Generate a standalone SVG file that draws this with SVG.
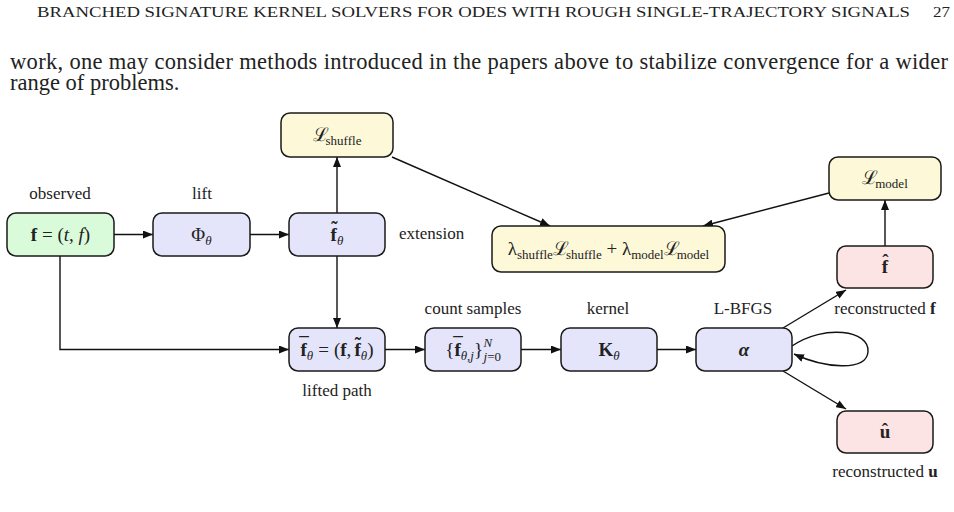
<svg xmlns="http://www.w3.org/2000/svg" width="954" height="512" viewBox="0 0 954 512">
<style>
text{font-family:"Liberation Serif","DejaVu Serif",serif;fill:#222}
.hd{font-size:14px}
.para{font-size:22.5px}
.lbl{font-size:17px;text-anchor:middle}
.m{font-size:19px}
.mc{font-size:19px;text-anchor:middle}
.acc{font-size:19px;text-anchor:middle;font-weight:bold}
.b{font-weight:bold}
.i{font-style:italic}
.s{font-size:13px}
.box{stroke:#1a1a1a;stroke-width:1.5}
.g{fill:#d9fbd9}.bl{fill:#e4e5fb}.y{fill:#fdf8d8}.p{fill:#fde4e4}
.e{fill:none;stroke:#111;stroke-width:1.4;marker-end:url(#ah)}
</style>
<defs>
<marker id="ah" markerWidth="11" markerHeight="8" refX="10" refY="4" orient="auto" markerUnits="userSpaceOnUse">
<path d="M0,0 L10,4 L0,8 z" fill="#111"/>
</marker>
</defs>
<rect width="954" height="512" fill="#fff"/>
<text class="hd" x="37" y="17" textLength="873" lengthAdjust="spacingAndGlyphs">BRANCHED SIGNATURE KERNEL SOLVERS FOR ODES WITH ROUGH SINGLE-TRAJECTORY SIGNALS</text>
<text class="hd" x="933" y="17" textLength="17" lengthAdjust="spacingAndGlyphs">27</text>
<text class="para" x="10" y="69" textLength="938">work, one may consider methods introduced in the papers above to stabilize convergence for a wider</text>
<text class="para" x="10" y="90">range of problems.</text>

<g id="connectors">
<path class="e" d="M114,234.5 H153"/>
<path class="e" d="M250,234.5 H289"/>
<path class="e" d="M337,213 V157"/>
<path class="e" d="M337,256 V328"/>
<path class="e" d="M60,256 V349.5 H289"/>
<path class="e" d="M385,349.5 H425"/>
<path class="e" d="M521,349.5 H561"/>
<path class="e" d="M657,349.5 H696"/>
<path class="e" d="M783,328 L846,290"/>
<path class="e" d="M783,371 L846,409"/>
<path class="e" d="M792,346 C824,324 870,330 868,352 C866,372 824,368 794,354"/>
<path class="e" d="M885,246 V200"/>
<path class="e" d="M392,157 L550,226"/>
<path class="e" d="M829,193 L703,226"/>
</g>

<g id="n_observed">
<rect class="box g" x="7" y="213" width="107" height="43" rx="9"/>
<text class="mc" x="60.5" y="240.5"><tspan class="b">f</tspan> = (<tspan class="i">t</tspan>, <tspan class="i">f</tspan>)</text>
<text class="lbl" x="60" y="199">observed</text>
</g>
<g id="n_lift">
<rect class="box bl" x="153" y="213" width="97" height="43" rx="9"/>
<text class="mc" x="201.5" y="240.5">Φ<tspan class="i s" dy="4">θ</tspan></text>
<text class="lbl" x="202" y="199">lift</text>
</g>
<g id="n_ext">
<rect class="box bl" x="289" y="213" width="96" height="43" rx="9"/>
<text class="m" y="240.5"><tspan class="b" x="330.6">f</tspan><tspan class="i s" x="337" dy="4">θ</tspan></text>
<text class="acc" x="334.3" y="234">˜</text>
<text class="lbl" x="399" y="239" style="text-anchor:start">extension</text>
</g>
<g id="n_lshuffle">
<rect class="box y" x="281" y="113" width="112" height="44" rx="9"/>
<text class="mc" x="337" y="141">ℒ<tspan class="s" dy="4" dx="-3">shuffle</tspan></text>
</g>
<g id="n_loss">
<rect class="box y" x="492" y="226" width="233" height="46" rx="9"/>
<text class="mc" x="608.5" y="255">λ<tspan class="s" dy="4">shuffle</tspan><tspan dy="-4">ℒ</tspan><tspan class="s" dy="4" dx="-3">shuffle</tspan><tspan dy="-4"> + λ</tspan><tspan class="s" dy="4">model</tspan><tspan dy="-4">ℒ</tspan><tspan class="s" dy="4" dx="-3">model</tspan></text>
</g>
<g id="n_lmodel">
<rect class="box y" x="829" y="157" width="112" height="43" rx="9"/>
<text class="mc" x="885" y="184">ℒ<tspan class="s" dy="4" dx="-3">model</tspan></text>
</g>
<g id="n_lifted">
<rect class="box bl" x="289" y="328" width="96" height="43" rx="9"/>
<text class="m" y="355.5"><tspan class="b" x="300.5">f</tspan><tspan class="i s" x="306.8" dy="4">θ</tspan><tspan x="318.3" dy="-4">=</tspan><tspan x="334">(</tspan><tspan class="b" x="340.3">f</tspan><tspan x="346.6">,</tspan><tspan class="b" x="354.5">f</tspan><tspan class="i s" x="360.8" dy="4">θ</tspan><tspan x="367.3" dy="-4">)</tspan></text>
<text class="acc" x="304" y="349.5">¯</text>
<text class="acc" x="358" y="349.5">˜</text>
<text class="lbl" x="337" y="396">lifted path</text>
</g>
<g id="n_samples">
<rect class="box bl" x="425" y="328" width="96" height="43" rx="9"/>
<text class="m" y="355.5"><tspan x="445.3">{</tspan><tspan class="b" x="454.4">f</tspan><tspan class="s" x="460.7" dy="4"><tspan class="i">θ</tspan>,<tspan class="i">j</tspan></tspan><tspan x="474.1" dy="-4">}</tspan></text>
<text class="s i" x="483.5" y="347">N</text>
<text class="s" x="483.5" y="361"><tspan class="i">j</tspan>=0</text>
<text class="acc" x="458" y="349.5">¯</text>
<text class="lbl" x="473" y="314">count samples</text>
</g>
<g id="n_kernel">
<rect class="box bl" x="561" y="328" width="96" height="43" rx="9"/>
<text class="mc" x="609" y="355.5"><tspan class="b">K</tspan><tspan class="i s" dy="4">θ</tspan></text>
<text class="lbl" x="608" y="314">kernel</text>
</g>
<g id="n_alpha">
<rect class="box bl" x="696" y="328" width="96" height="43" rx="9"/>
<text class="mc b i" x="744" y="355.5">α</text>
<text class="lbl" x="743" y="314">L-BFGS</text>
</g>
<g id="n_fhat">
<rect class="box p" x="837" y="246" width="96" height="42" rx="9"/>
<text class="mc b" x="885" y="273">f</text>
<text class="acc" x="885.5" y="267">ˆ</text>
<text class="lbl" x="885" y="314">reconstructed <tspan class="b">f</tspan></text>
</g>
<g id="n_uhat">
<rect class="box p" x="837" y="411" width="96" height="42" rx="9"/>
<text class="mc b" x="885" y="438">u</text>
<text class="acc" x="885" y="436">ˆ</text>
<text class="lbl" x="885" y="477">reconstructed <tspan class="b">u</tspan></text>
</g>
</svg>
